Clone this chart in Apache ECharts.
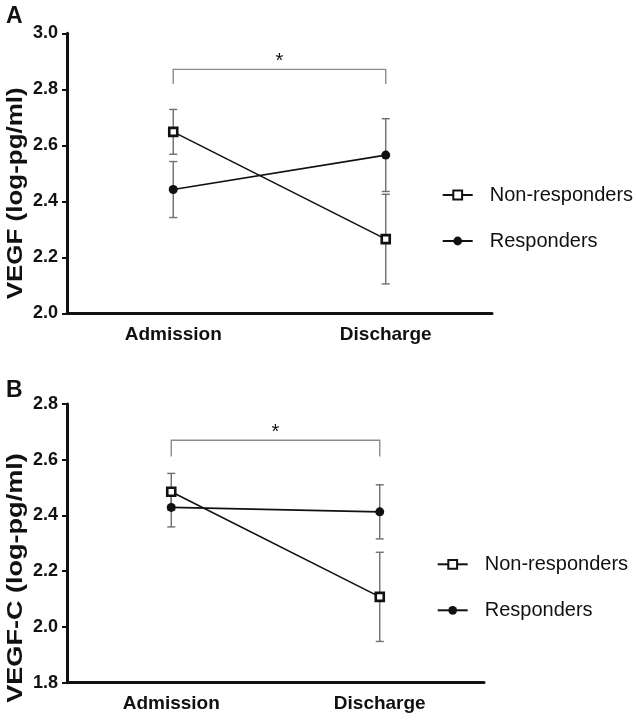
<!DOCTYPE html>
<html>
<head>
<meta charset="utf-8">
<script src="https://cdn.jsdelivr.net/npm/echarts@6/dist/echarts.min.js"></script>
<style>
html,body{margin:0;padding:0;background:#fff;}
#chart{width:636px;height:721px;}
</style>
</head>
<body>
<div id="chart"></div>
<script>
// ---- data ----
const categories = ['Admission', 'Discharge'];
const seriesNames = ['Non-responders', 'Responders'];

// Panel A: VEGF
const vegfNonResp = [2.648, 2.265];
const vegfNonRespErr = [0.08, 0.16];
const vegfResp = [2.442, 2.565];
const vegfRespErr = [0.10, 0.13];
const vegfTicks = [2.0, 2.2, 2.4, 2.6, 2.8, 3.0];
const vegfBracket = [2.819, 2.871];

// Panel B: VEGF-C
const vegfcNonResp = [2.485, 2.108];
const vegfcNonRespErr = [0.066, 0.16];
const vegfcResp = [2.429, 2.413];
const vegfcRespErr = [0.07, 0.097];
const vegfcTicks = [1.8, 2.0, 2.2, 2.4, 2.6, 2.8];
const vegfcBracket = [2.612, 2.670];

const FONT = '"Liberation Sans", Arial, Helvetica, sans-serif';

function errData(vals, errs) {
  return vals.map((v, i) => [i, v, errs[i]]);
}
function errSeries(xi, vals, errs) {
  return {
    type: 'custom', xAxisIndex: xi, yAxisIndex: xi, z: 1, silent: true,
    data: errData(vals, errs),
    encode: { x: 0, y: 1 },
    renderItem: function (params, api) {
      const x = api.value(0), v = api.value(1), e = api.value(2);
      const hi = api.coord([x, v + e]);
      const lo = api.coord([x, v - e]);
      const w = 4;
      const st = { stroke: '#6e6e6e', lineWidth: 1.4, fill: null };
      return { type: 'group', children: [
        { type: 'line', shape: { x1: hi[0], y1: hi[1], x2: lo[0], y2: lo[1] }, style: st },
        { type: 'line', shape: { x1: hi[0] - w, y1: hi[1], x2: hi[0] + w, y2: hi[1] }, style: st },
        { type: 'line', shape: { x1: lo[0] - w, y1: lo[1], x2: lo[0] + w, y2: lo[1] }, style: st }
      ]};
    }
  };
}
function bracketSeries(xi, br, starOffset) {
  return {
    type: 'custom', xAxisIndex: xi, yAxisIndex: xi, z: 1, silent: true,
    data: [[0, 1, br[0], br[1]]],
    renderItem: function (params, api) {
      const a0 = api.coord([api.value(0), api.value(2)]);
      const a1 = api.coord([api.value(0), api.value(3)]);
      const b1 = api.coord([api.value(1), api.value(3)]);
      const b0 = api.coord([api.value(1), api.value(2)]);
      return { type: 'group', children: [
        { type: 'polyline', shape: { points: [a0, a1, b1, b0] },
          style: { stroke: '#8c8c8c', lineWidth: 1.4, fill: null } },
        { type: 'text', x: (a1[0] + b1[0]) / 2, y: a1[1] - starOffset,
          style: { text: '*', font: '20px ' + FONT, fill: '#111', textAlign: 'center', textVerticalAlign: 'middle' } }
      ]};
    }
  };
}
function lineSeries(xi, name, vals, isSquare) {
  return {
    type: 'line', name: name, xAxisIndex: xi, yAxisIndex: xi, z: 3,
    data: vals,
    symbol: isSquare ? 'rect' : 'circle',
    symbolSize: isSquare ? 8 : 9,
    lineStyle: { color: '#111', width: 1.6 },
    itemStyle: isSquare ? { color: '#fff', borderColor: '#111', borderWidth: 2.6 }
                        : { color: '#111', borderColor: '#111', borderWidth: 0 },
    emphasis: { disabled: true },
    animation: false
  };
}
function xAxis(gi) {
  return {
    type: 'category', gridIndex: gi, data: categories,
    axisLine: { lineStyle: { color: '#111', width: 3 } },
    axisTick: { alignWithLabel: true, length: 6, lineStyle: { color: '#111', width: 2.5 } },
    axisLabel: { color: '#111', fontWeight: 'bold', fontSize: 19, fontFamily: FONT, margin: 12 }
  };
}
function yAxis(gi, ticks) {
  return {
    type: 'value', gridIndex: gi, min: ticks[0], max: ticks[ticks.length - 1], interval: 0.2,
    splitLine: { show: false },
    axisLine: { show: true, lineStyle: { color: '#111', width: 3 } },
    axisTick: { show: true, length: 5, lineStyle: { color: '#111', width: 2 } },
    axisLabel: { color: '#111', fontWeight: 'bold', fontSize: 18, fontFamily: FONT, margin: 9,
                 formatter: v => v.toFixed(1) }
  };
}
function legend(gi, left, top) {
  return {
    orient: 'vertical', left: left, top: top, data: seriesNames, padding: 0,
    itemWidth: 30, itemHeight: 11, itemGap: 26,
    textStyle: { fontSize: 20, fontFamily: FONT, color: '#111', lineHeight: 20, padding: [0, 0, 0, 12] },
    selectedMode: false
  };
}

const chart = echarts.init(document.getElementById('chart'), null, { renderer: 'canvas' });
chart.setOption({
  animation: false,
  backgroundColor: '#fff',
  grid: [
    { left: 67, right: 144, top: 33.3, height: 280 },
    { left: 67, right: 152, top: 404, height: 278.7 }
  ],
  xAxis: [xAxis(0), xAxis(1)],
  yAxis: [yAxis(0, vegfTicks), yAxis(1, vegfcTicks)],
  legend: [legend(0, 441.7, 185), legend(1, 436.7, 554.3)],
  graphic: [
    { type: 'text', left: 6, top: 5, style: { text: 'A', font: 'bold 23px ' + FONT, fill: '#111' } },
    { type: 'text', left: 6, top: 379.5, style: { text: 'B', font: 'bold 23px ' + FONT, fill: '#111' } },
    { type: 'text', x: 16, y: 193.3, rotation: Math.PI / 2, scaleX: 1.18,
      style: { text: 'VEGF (log-pg/ml)', font: 'bold 22px ' + FONT, fill: '#111', textAlign: 'center', textVerticalAlign: 'middle' } },
    { type: 'text', x: 16, y: 578, rotation: Math.PI / 2, scaleX: 1.23,
      style: { text: 'VEGF-C (log-pg/ml)', font: 'bold 22px ' + FONT, fill: '#111', textAlign: 'center', textVerticalAlign: 'middle' } }
  ],
  series: [
    errSeries(0, vegfNonResp, vegfNonRespErr),
    errSeries(0, vegfResp, vegfRespErr),
    bracketSeries(0, vegfBracket, 8),
    lineSeries(0, seriesNames[0], vegfNonResp, true),
    lineSeries(0, seriesNames[1], vegfResp, false),
    errSeries(1, vegfcNonResp, vegfcNonRespErr),
    errSeries(1, vegfcResp, vegfcRespErr),
    bracketSeries(1, vegfcBracket, 8),
    lineSeries(1, seriesNames[0], vegfcNonResp, true),
    lineSeries(1, seriesNames[1], vegfcResp, false)
  ]
});
</script>
</body>
</html>
